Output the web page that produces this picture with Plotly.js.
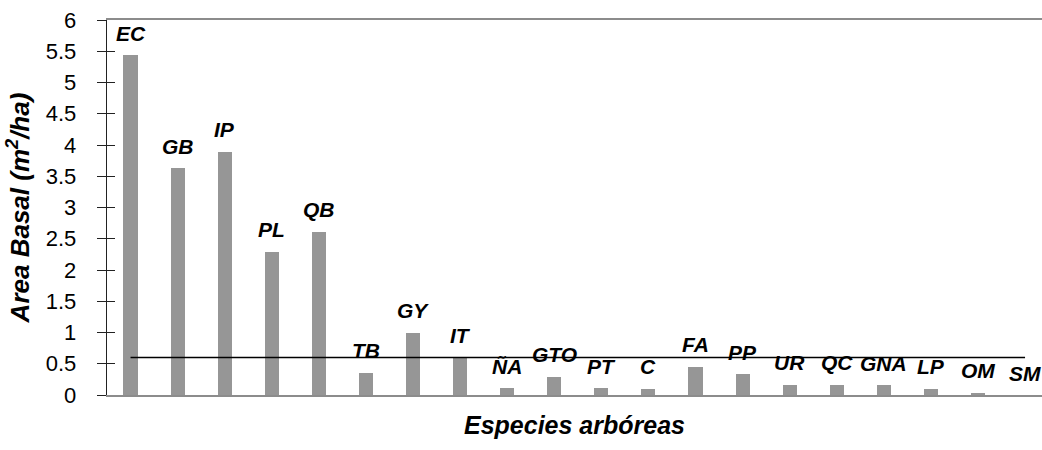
<!DOCTYPE html>
<html>
<head>
<meta charset="utf-8">
<script src="https://cdn.plot.ly/plotly-3.0.1.min.js"></script>
<style>html,body{margin:0;padding:0;background:#fff;}#chart{width:1042px;height:450px;}</style>
</head>
<body>
<div id="chart"></div>
<script>
const species = ['EC','GB','IP','PL','QB','TB','GY','IT','ÑA','GTO','PT','C','FA','PP','UR','QC','GNA','LP','OM','SM'];
const basalArea = [5.44,3.63,3.89,2.29,2.61,0.36,1.0,0.60,0.11,0.29,0.11,0.10,0.45,0.33,0.165,0.165,0.16,0.10,0.04,0.0];
const meanLineX = ['EC','SM'];
const meanLineY = [0.6,0.6];
const yTickVals = [0,0.5,1,1.5,2,2.5,3,3.5,4,4.5,5,5.5,6];

const FONT = '"Liberation Sans", Arial, sans-serif';

const traces = [
  {type:'bar', x:species, y:basalArea, width:0.3, marker:{color:'#969696'}, hoverinfo:'x+y'},
  {type:'scatter', mode:'lines', x:meanLineX, y:meanLineY, line:{color:'#000', width:1.6}, hoverinfo:'skip'},
  {type:'scatter', mode:'markers', x:[], y:[], yaxis:'y2', hoverinfo:'skip'}
];

const annotations = species.map((s,i)=>({
  x:s, y:basalArea[i], xref:'x', yref:'y', text:'<b><i>'+s+'</i></b>',
  showarrow:false, yanchor:'middle', xanchor:'center', yshift:22,
  font:{family:FONT, size:21, color:'#000'}
}));

const layout = {
  width:1042, height:450,
  margin:{l:107, r:0, t:20, b:55},
  paper_bgcolor:'#fff', plot_bgcolor:'#fff',
  showlegend:false,
  font:{family:FONT, color:'#000'},
  bargap:0,
  xaxis:{type:'category', range:[-0.5,19.36], showticklabels:false, ticks:'',
         showline:true, linecolor:'#8c8c8c', linewidth:2, mirror:true, showgrid:false, zeroline:false,
         title:{text:'<b><i>Especies arbóreas</i></b>', font:{family:FONT, size:25, color:'#000'}, standoff:20}},
  yaxis:{range:[0,6], tickvals:yTickVals, ticks:'outside', ticklen:9, tickcolor:'#222', tickwidth:1,
         showline:true, linecolor:'#222', linewidth:1.3, showgrid:false, zeroline:false,
         ticklabelstandoff:16,
         tickfont:{family:FONT, size:22, color:'#000'},
         title:{text:'<b><i>Area Basal (m<sup>2</sup>/ha)</i></b>', font:{family:FONT, size:26, color:'#000'}, standoff:8}},
  yaxis2:{overlaying:'y', side:'left', anchor:'x', range:[0,6], tickvals:yTickVals, ticks:'inside', ticklen:8,
          tickcolor:'#222', tickwidth:1, showticklabels:false, showline:false, showgrid:false, zeroline:false},
  annotations:annotations
};

Plotly.newPlot('chart', traces, layout, {displayModeBar:false, staticPlot:true});
</script>
</body>
</html>
